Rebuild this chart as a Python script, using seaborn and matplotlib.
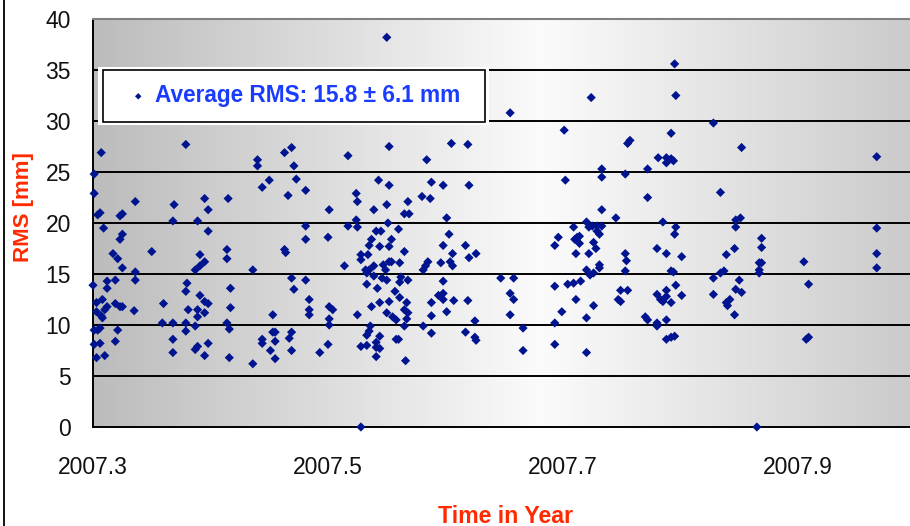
import numpy as np
import pandas as pd
import seaborn as sns
import matplotlib
matplotlib.use("Agg")
import matplotlib.pyplot as plt
from matplotlib import font_manager
from matplotlib.colors import LinearSegmentedColormap
from matplotlib.patches import Rectangle
from matplotlib.lines import Line2D

# ---------------- data ----------------
t_a = [2007.307, 2007.379, 2007.301, 2007.301, 2007.304, 2007.306, 2007.336, 2007.369, 2007.323, 2007.325,
       2007.309, 2007.368, 2007.389, 2007.325, 2007.323, 2007.317, 2007.321, 2007.350, 2007.391, 2007.325,
       2007.336, 2007.336, 2007.387, 2007.391, 2007.300, 2007.312, 2007.312, 2007.319, 2007.380, 2007.379,
       2007.391, 2007.303, 2007.308, 2007.303, 2007.310, 2007.312, 2007.319, 2007.323, 2007.325, 2007.335,
       2007.360, 2007.381, 2007.389, 2007.389, 2007.308, 2007.307, 2007.301, 2007.304, 2007.306, 2007.321,
       2007.359, 2007.368, 2007.379, 2007.387, 2007.379, 2007.301, 2007.306, 2007.319, 2007.368, 2007.387,
       2007.389, 2007.303, 2007.310, 2007.368]
r_a = [26.9, 27.7, 24.8, 22.9, 20.8, 21.0, 22.1, 21.8, 20.7, 20.9,
       19.5, 20.2, 20.2, 18.9, 18.4, 17.0, 16.5, 17.2, 16.9, 15.6,
       15.2, 14.4, 15.4, 15.8, 13.9, 14.3, 13.6, 14.4, 14.1, 13.3,
       12.9, 12.2, 12.5, 11.3, 11.5, 11.8, 12.1, 11.8, 11.8, 11.4,
       12.1, 11.5, 11.5, 10.8, 10.7, 10.9, 9.5, 9.5, 9.7, 9.5,
       10.2, 10.2, 10.2, 9.9, 9.4, 8.1, 8.2, 8.4, 8.6, 7.6,
       7.9, 6.8, 7.0, 7.3]

t_b = [2007.469, 2007.463, 2007.440, 2007.440, 2007.471, 2007.450, 2007.444, 2007.473, 2007.481, 2007.466,
       2007.395, 2007.415, 2007.398, 2007.398, 2007.481, 2007.481, 2007.395, 2007.414, 2007.414, 2007.463,
       2007.464, 2007.436, 2007.469, 2007.471, 2007.481, 2007.395, 2007.398, 2007.395, 2007.417, 2007.417,
       2007.414, 2007.416, 2007.453, 2007.453, 2007.455, 2007.469, 2007.467, 2007.444, 2007.444, 2007.455,
       2007.398, 2007.395, 2007.416, 2007.451, 2007.455, 2007.469, 2007.436]
r_b = [27.4, 26.9, 26.2, 25.6, 25.6, 24.2, 23.5, 24.3, 23.2, 22.7,
       22.4, 22.4, 21.3, 19.2, 19.7, 18.4, 16.2, 17.4, 16.5, 17.4,
       17.1, 15.4, 14.6, 13.5, 14.4, 12.3, 12.1, 11.2, 13.6, 11.7,
       10.2, 9.6, 11.0, 9.3, 9.3, 9.3, 8.7, 8.6, 8.2, 8.4,
       8.2, 7.0, 6.8, 7.5, 6.7, 7.5, 6.2]

t_c = [2007.550, 2007.552, 2007.517, 2007.543, 2007.552, 2007.524, 2007.525, 2007.501, 2007.539, 2007.550,
       2007.568, 2007.565, 2007.569, 2007.524, 2007.525, 2007.517, 2007.551, 2007.541, 2007.545, 2007.560,
       2007.500, 2007.537, 2007.535, 2007.544, 2007.552, 2007.554, 2007.565, 2007.528, 2007.534, 2007.528,
       2007.552, 2007.554, 2007.561, 2007.514, 2007.539, 2007.535, 2007.532, 2007.533, 2007.547, 2007.549,
       2007.550, 2007.539, 2007.546, 2007.562, 2007.561, 2007.568, 2007.533, 2007.542, 2007.557, 2007.561,
       2007.484, 2007.484, 2007.484, 2007.501, 2007.504, 2007.501, 2007.501, 2007.525, 2007.537, 2007.544,
       2007.552, 2007.550, 2007.555, 2007.558, 2007.565, 2007.568, 2007.567, 2007.565, 2007.567, 2007.536,
       2007.535, 2007.533, 2007.544, 2007.558, 2007.560, 2007.528, 2007.533, 2007.541, 2007.541, 2007.544,
       2007.500, 2007.493, 2007.541, 2007.566, 2007.528]
r_c = [38.2, 27.5, 26.6, 24.2, 23.7, 22.9, 22.1, 21.3, 21.3, 21.8,
       22.1, 20.9, 20.9, 20.3, 19.6, 19.7, 20.0, 19.2, 19.2, 19.4,
       18.6, 18.4, 17.8, 17.7, 17.7, 18.4, 17.2, 16.9, 16.9, 16.4,
       16.2, 16.2, 16.1, 15.8, 15.8, 15.4, 15.4, 15.1, 15.9, 15.4,
       14.4, 14.8, 14.6, 14.7, 14.2, 14.4, 14.0, 13.6, 13.3, 12.7,
       12.5, 11.5, 11.0, 11.8, 11.5, 10.6, 10.0, 11.0, 11.8, 12.2,
       12.3, 11.2, 10.8, 10.5, 11.5, 11.2, 10.6, 9.9, 12.2, 9.9,
       9.4, 9.0, 8.9, 8.6, 8.6, 7.9, 8.0, 8.3, 7.8, 7.7,
       8.1, 7.3, 6.9, 6.5, 0.0]

t_d = [2007.655, 2007.605, 2007.619, 2007.584, 2007.588, 2007.598, 2007.620, 2007.580, 2007.587, 2007.601,
       2007.603, 2007.598, 2007.617, 2007.606, 2007.626, 2007.620, 2007.585, 2007.583, 2007.581, 2007.596,
       2007.604, 2007.606, 2007.647, 2007.658, 2007.598, 2007.655, 2007.658, 2007.594, 2007.598, 2007.598,
       2007.588, 2007.607, 2007.619, 2007.588, 2007.601, 2007.655, 2007.581, 2007.625, 2007.588, 2007.617,
       2007.625, 2007.626]
r_d = [30.8, 27.8, 27.7, 26.2, 24.0, 23.7, 23.7, 22.6, 22.4, 20.5,
       18.9, 17.8, 17.8, 17.0, 17.0, 16.6, 16.2, 15.8, 15.4, 16.1,
       16.2, 15.8, 14.6, 14.6, 14.3, 13.1, 12.5, 12.9, 13.1, 12.5,
       12.2, 12.4, 12.4, 10.9, 11.3, 11.0, 9.9, 10.4, 9.2, 9.3,
       8.8, 8.5]

t_e = [2007.724, 2007.701, 2007.755, 2007.733, 2007.733, 2007.753, 2007.702, 2007.733, 2007.745, 2007.720,
       2007.722, 2007.725, 2007.729, 2007.733, 2007.729, 2007.731, 2007.709, 2007.696, 2007.693, 2007.712,
       2007.714, 2007.710, 2007.714, 2007.726, 2007.711, 2007.722, 2007.728, 2007.753, 2007.754, 2007.753,
       2007.731, 2007.731, 2007.720, 2007.723, 2007.726, 2007.715, 2007.709, 2007.704, 2007.693, 2007.749,
       2007.755, 2007.747, 2007.749, 2007.711, 2007.726, 2007.699, 2007.720, 2007.693, 2007.666, 2007.666,
       2007.693, 2007.720]
r_e = [32.3, 29.1, 27.8, 25.3, 24.5, 24.8, 24.2, 21.3, 20.5, 20.1,
       19.6, 19.7, 19.7, 19.7, 19.2, 18.9, 19.6, 18.6, 17.8, 18.6,
       18.7, 18.4, 18.0, 18.1, 17.0, 17.0, 17.5, 17.0, 16.3, 15.3,
       15.9, 15.6, 15.4, 14.9, 15.1, 14.3, 14.1, 14.0, 13.8, 13.4,
       13.4, 12.5, 12.3, 12.5, 11.9, 11.3, 10.7, 10.2, 9.7, 7.5,
       8.1, 7.3]

t_f = [2007.795, 2007.796, 2007.828, 2007.792, 2007.757, 2007.781, 2007.788, 2007.788, 2007.792, 2007.794,
       2007.772, 2007.834, 2007.772, 2007.785, 2007.796, 2007.795, 2007.780, 2007.788, 2007.801, 2007.839,
       2007.846, 2007.792, 2007.794, 2007.828, 2007.834, 2007.837, 2007.796, 2007.801, 2007.780, 2007.788,
       2007.783, 2007.785, 2007.788, 2007.792, 2007.828, 2007.839, 2007.842, 2007.840, 2007.846, 2007.770,
       2007.772, 2007.780, 2007.780, 2007.788, 2007.788, 2007.792, 2007.795]
r_f = [35.6, 32.5, 29.8, 28.8, 28.1, 26.4, 26.4, 25.9, 26.3, 26.1,
       25.3, 23.0, 22.5, 20.1, 19.6, 18.9, 17.5, 17.0, 16.7, 16.9,
       17.5, 15.3, 15.2, 14.6, 15.1, 15.3, 13.9, 12.9, 13.0, 13.4,
       12.5, 12.3, 12.8, 12.2, 13.0, 12.2, 12.5, 11.9, 11.0, 10.8,
       10.5, 10.2, 9.9, 10.5, 8.6, 8.8, 8.9]

t_g = [2007.852, 2007.847, 2007.851, 2007.847, 2007.869, 2007.869, 2007.867, 2007.869, 2007.867, 2007.867,
       2007.905, 2007.850, 2007.847, 2007.852, 2007.909, 2007.907, 2007.909, 2007.865,
       2007.967, 2007.967, 2007.967, 2007.967]
r_g = [27.4, 20.3, 20.5, 19.6, 18.5, 17.6, 16.1, 16.1, 15.4, 15.1,
       16.2, 14.4, 13.5, 13.2, 14.0, 8.6, 8.8, 0.0,
       26.5, 19.5, 17.0, 15.6]

x_ticks = [2007.3, 2007.5, 2007.7, 2007.9]
y_ticks = [0, 5, 10, 15, 20, 25, 30, 35, 40]
legend_label = "Average RMS: 15.8 ± 6.1 mm"
x_title = "Time in Year"
y_title = "RMS [mm]"

# ---------------- styling ----------------
sns.set_style("white")
names = {f.name for f in font_manager.fontManager.ttflist}
has_narrow = "Liberation Sans Narrow" in names
base = "Liberation Sans Narrow" if has_narrow else "Liberation Sans"
plt.rcParams["font.family"] = [base, "DejaVu Sans"]
tick_size = 18 if has_narrow else 16.5
xt_size = 19 if has_narrow else 16.7
yt_size = 19 if has_narrow else 16

df = pd.DataFrame({
    "Time": np.concatenate([t_a, t_b, t_c, t_d, t_e, t_f, t_g]),
    "RMS": np.concatenate([r_a, r_b, r_c, r_d, r_e, r_f, r_g]),
})

W, H = 910, 526
fig = plt.figure(figsize=(W / 100, H / 100), dpi=100)
fig.patch.set_facecolor("white")
ax = fig.add_axes([93 / W, 1 - 427 / H, 817 / W, 408 / H])

# gradient plot-area background
cmap = LinearSegmentedColormap.from_list(
    "bg", [(0.0, "#bcbcbc"), (0.55, "#fbfbfb"), (1.0, "#cbcbcb")])
grad = np.linspace(0, 1, 512)[None, :]
ax.imshow(grad, aspect="auto", cmap=cmap, extent=[0, 1, 0, 1],
          transform=ax.transAxes, zorder=0, interpolation="bilinear")

for yv in y_ticks[1:-1]:
    ax.axhline(yv, color="black", lw=1.4, zorder=1)

sns.scatterplot(data=df, x="Time", y="RMS", marker="D", s=22, color="#001490",
                edgecolor="none", linewidth=0, ax=ax, zorder=3, clip_on=False,
                label=legend_label)

ax.set_xlim(2007.3, 2007.3 + 817 / 1175)
ax.set_ylim(0, 40)
ax.set_xticks(x_ticks)
ax.set_xticklabels([f"{v:.1f}" for v in x_ticks])
ax.set_yticks(y_ticks)
ax.tick_params(axis="both", direction="out", length=7, width=1, color="black",
               labelsize=tick_size, labelcolor="#111111")
ax.tick_params(axis="x", pad=14)
ax.tick_params(axis="y", pad=9)

for s in ["left", "bottom"]:
    ax.spines[s].set_color("black")
    ax.spines[s].set_linewidth(1.4)
ax.spines["top"].set_color("#808080")
ax.spines["top"].set_linewidth(1.5)
ax.spines["right"].set_visible(False)

ax.set_xlabel(x_title, color="#ff2a00", fontweight="bold", fontsize=xt_size)
ax.set_ylabel(y_title, color="#ff2a00", fontweight="bold", fontsize=yt_size)
ax.xaxis.set_label_coords(0.505, -0.19)
ax.yaxis.set_label_coords(-0.072, 0.539)

# legend box
x0, x1 = (102.5 - 93) / 817, (484.5 - 93) / 817
y0, y1 = (427 - 121.5) / 408, (427 - 70) / 408
ax.add_patch(Rectangle((x0 - 0.006, y0 - 0.008), (x1 - x0) + 0.012, (y1 - y0) + 0.016,
                       transform=ax.transAxes, facecolor="white", edgecolor="none", zorder=4))
ax.add_patch(Rectangle((x0, y0), x1 - x0, y1 - y0, transform=ax.transAxes,
                       facecolor="white", edgecolor="black", lw=1.2, zorder=5))
leg = ax.legend(loc="center", bbox_to_anchor=((x0 + x1) / 2 + 0.003, (y0 + y1) / 2),
                frameon=False, handlelength=0.6, handletextpad=0.45, markerscale=0.7,
                prop={"family": ["Liberation Sans", "DejaVu Sans"], "weight": "bold", "size": 16.3})
leg.set_zorder(6)
for txt in leg.get_texts():
    txt.set_color("#1a3cff")

# outer chart border (left edge)
fig.add_artist(Line2D([3.5 / W, 3.5 / W], [0, 1], color="black", lw=1.3,
                      transform=fig.transFigure))

fig.savefig("out.png", dpi=100, facecolor="white")
